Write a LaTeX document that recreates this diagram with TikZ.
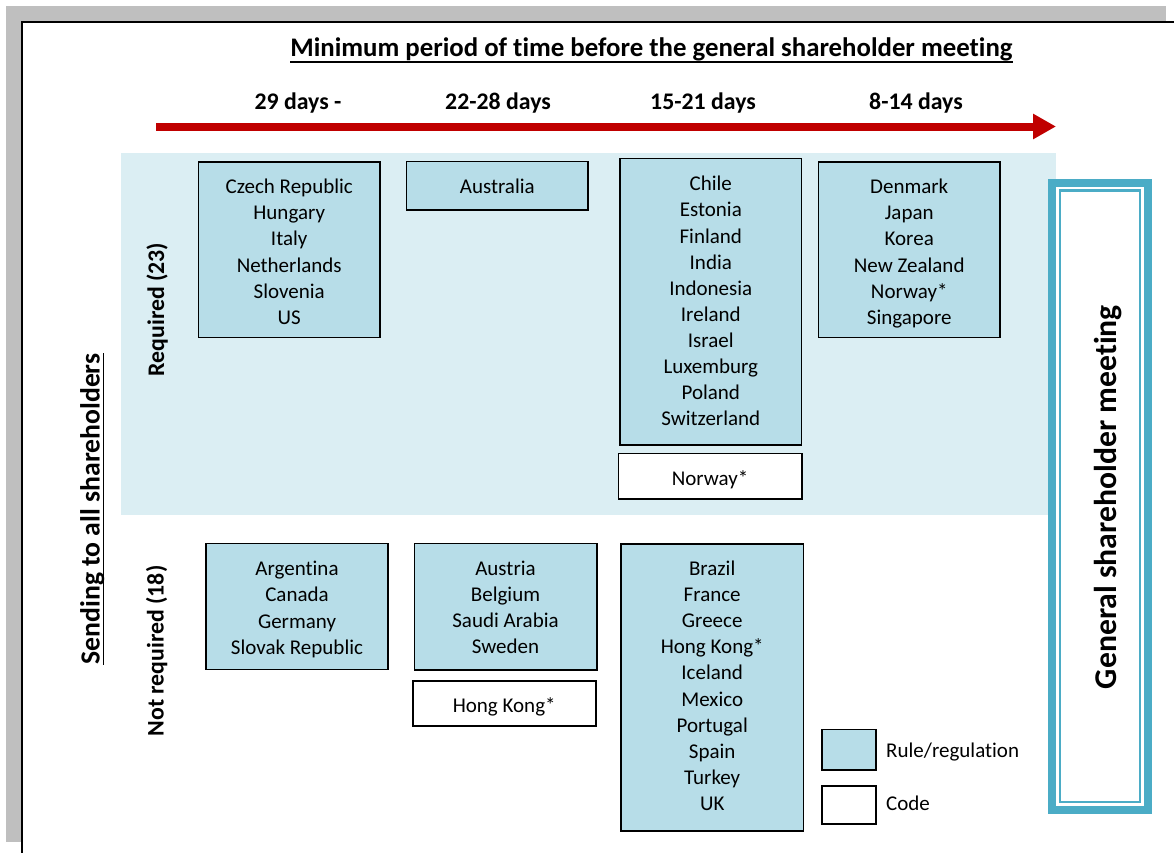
\documentclass[tikz,border=0pt]{standalone}
\usepackage{fontspec}
\setmainfont{Carlito}[RawFeature={-liga}]
\usetikzlibrary{arrows.meta}
\definecolor{pagegray}{HTML}{BFBFBF}
\definecolor{bandblue}{HTML}{DBEEF3}
\definecolor{boxblue}{HTML}{B7DDE8}
\definecolor{teal}{HTML}{4BACC6}
\definecolor{darkred}{HTML}{C00000}
\newcommand{\cfont}{\fontsize{21}{26.1}\selectfont}
\newcommand{\lblfont}{\fontsize{23.8}{28}\selectfont\bfseries}
\newcommand{\tp}[1]{\rule{0pt}{#1pt}}
\newcommand{\bt}{\rule[-5pt]{0pt}{5pt}}
\tikzset{
  rulebox/.style={draw=black, line width=1.6pt, fill=boxblue, align=center, font=\cfont, inner sep=0pt},
  codebox/.style={rulebox, fill=white},
  header/.style={font=\lblfont, anchor=base, inner sep=0pt},
  sidelabel/.style={font=\lblfont, anchor=base, rotate=90, inner sep=0pt},
  legendtext/.style={font=\cfont, anchor=west, inner sep=0pt},
  uline/.style={line width=1.8pt}
}
\begin{document}
\begin{tikzpicture}[x=1pt,y=-1pt]
\useasboundingbox (0,0) rectangle (1174,852);
% page background
\fill[pagegray] (6,6) rectangle (1166,842);
\fill[white] (22,22) rectangle (1180,860);
\draw[line width=1.5pt] (22,860) -- (22,22) -- (1180,22);
% band
\fill[bandblue] (121,153) rectangle (1056,514.5);
% title
\node[header, font=\fontsize{26.8}{30}\selectfont\bfseries] (title) at (651.5,56) {Minimum period of time before the general shareholder meeting};
\draw[uline] ([yshift=-6pt]title.base west) -- ([yshift=-6pt]title.base east);
% headers
\node[header] (h1) at (298,109) {29 days -};
\node[header] (h2) at (498,109) {22-28 days};
\node[header] (h3) at (703,109) {15-21 days};
\node[header] (h4) at (916,109) {8-14 days};
% arrow
\coordinate (arrS) at (156,126.5);
\coordinate (arrE) at (1056,126.5);
\draw[darkred, line width=8pt, -{Triangle[length=23pt,width=24pt]}] (arrS) -- (arrE);
% side labels
\node[sidelabel, font=\fontsize{27.7}{30}\selectfont\bfseries] (send) at (99.5,509) {Sending to all shareholders};
\draw[uline] ([xshift=4pt]send.base west) -- ([xshift=4pt]send.base east);
\node[sidelabel] (req) at (164,309.5) {Required (23)};
\node[sidelabel] (nreq) at (163.5,651) {Not required (18)};
% boxes
\node[rulebox, minimum width=181.7pt, minimum height=175.6pt] (czech) at (289.2,249.5)
  {\tp{24}Czech Republic\\Hungary\\Italy\\Netherlands\\Slovenia\\US\bt};
\node[rulebox, minimum width=181.3pt, minimum height=48.3pt] (aus) at (497.3,185.8) {\tp{20}Australia\bt};
\node[rulebox, minimum width=181.7pt, minimum height=286.3pt] (chile) at (710.8,301.8)
  {\tp{18}Chile\\Estonia\\Finland\\India\\Indonesia\\Ireland\\Israel\\Luxemburg\\Poland\\Switzerland\bt};
\node[codebox, minimum width=183.4pt, minimum height=45.4pt] (norcode) at (710,476) {\tp{24}Norway*\bt};
\node[rulebox, minimum width=181.7pt, minimum height=175.6pt] (denmark) at (909.2,249.5)
  {\tp{24}Denmark\\Japan\\Korea\\New Zealand\\Norway*\\Singapore\bt};
\node[rulebox, minimum width=182pt, minimum height=126pt] (arg) at (297,606.5)
  {\tp{22}Argentina\\Canada\\Germany\\Slovak Republic\bt};
\node[rulebox, minimum width=182.4pt, minimum height=126.5pt] (austria) at (505.5,606.7)
  {\tp{20}Austria\\Belgium\\Saudi Arabia\\Sweden\bt};
\node[codebox, minimum width=183pt, minimum height=45pt] (hkcode) at (504.2,703.2) {\tp{24}Hong Kong*\bt};
\node[rulebox, minimum width=182.3pt, minimum height=287pt] (brazil) at (712.2,687.5)
  {\tp{16}Brazil\\France\\Greece\\Hong Kong*\\Iceland\\Mexico\\Portugal\\Spain\\Turkey\\UK\bt};
% legend
\node[rulebox, minimum width=54pt, minimum height=40.7pt] (legrule) at (848.7,749.7) {};
\node[codebox, minimum width=54pt, minimum height=38pt] (legcode) at (848.7,805) {};
\node[legendtext] (legruletxt) at (886,752) {Rule/regulation};
\node[legendtext] (legcodetxt) at (886,803) {Code};
% general shareholder meeting
\draw[teal, line width=8pt] (1052,183) rectangle (1148.3,810.3);
\draw[teal, line width=2.5pt] (1060,190.5) rectangle (1140,802);
\node[sidelabel, font=\fontsize{31.7}{34}\selectfont\bfseries] (gsm) at (1116,497) {General shareholder meeting};
\end{tikzpicture}
\end{document}
